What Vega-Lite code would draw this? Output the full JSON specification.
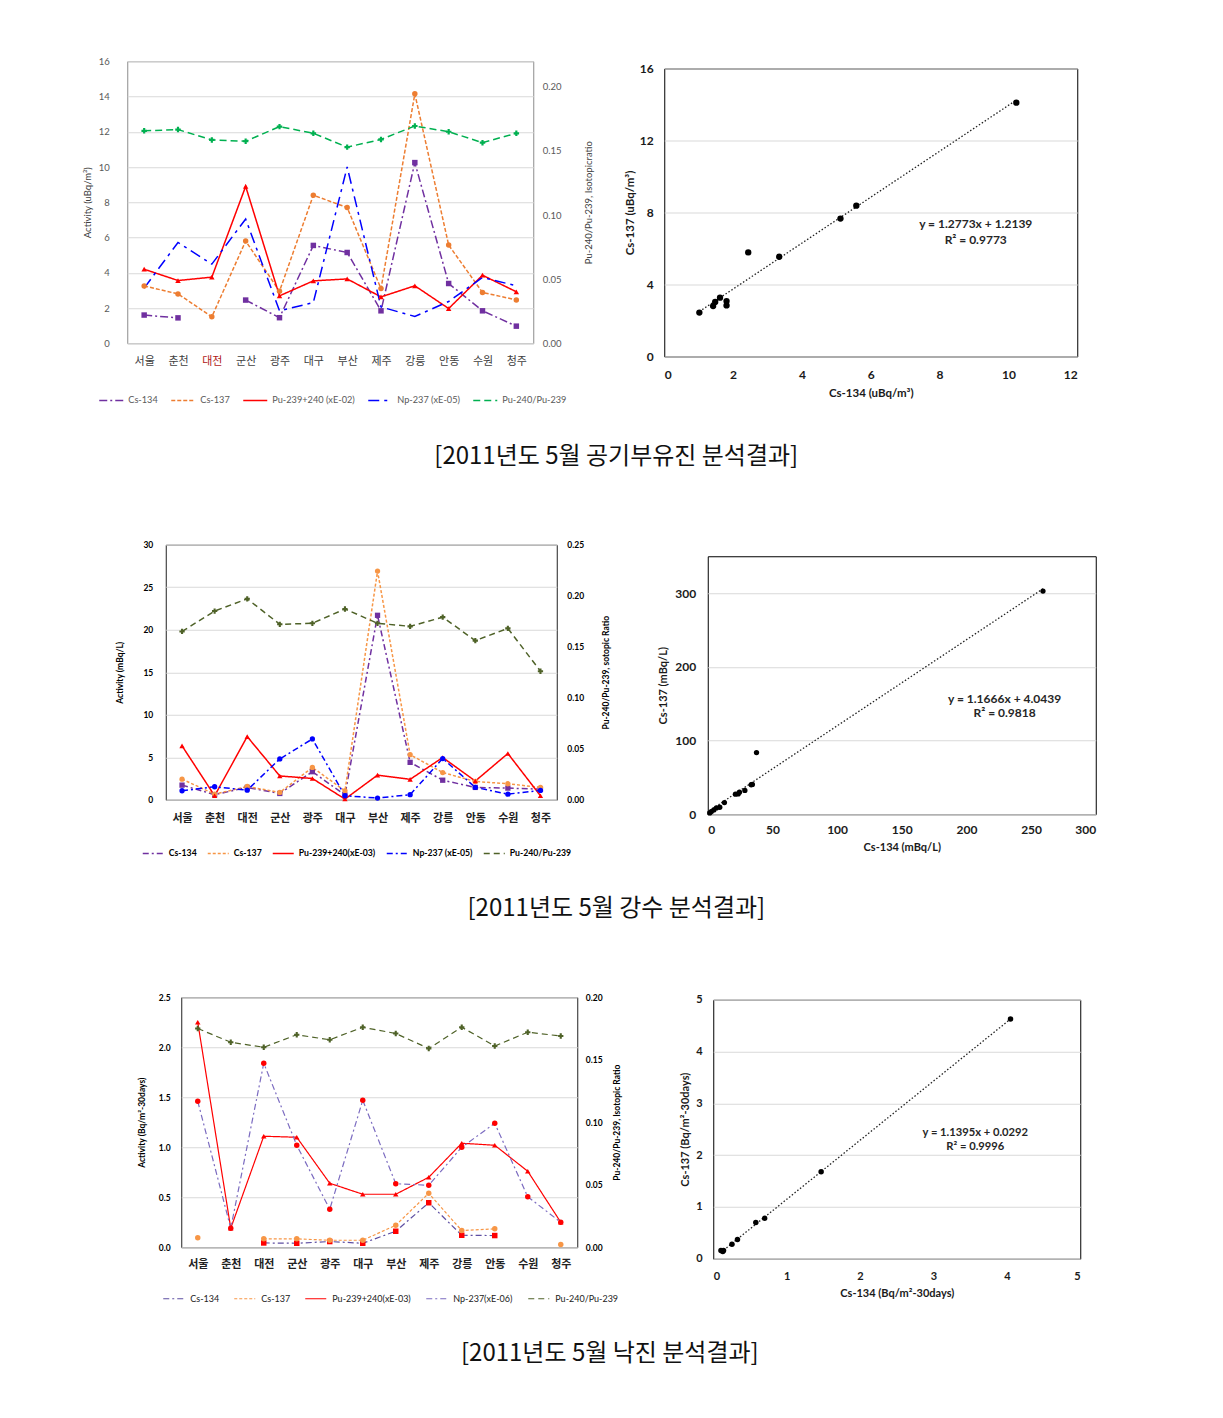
{
  "$schema": "https://vega.github.io/schema/vega-lite/v6.json",
  "background": "white",
  "padding": {"left": 81, "top": 55, "right": 5, "bottom": 5},
  "config": {
    "font": "Lato",
    "axis": {"labelFont": "Lato", "titleFont": "Lato", "domain": false, "ticks": false, "gridColor": "#d9d9d9", "labelColor": "#000", "titleColor": "#000"},
    "legend": {"labelFont": "Lato"},
    "view": {"stroke": "#000"}
  },
  "datasets": {
    "air": [
      {"c": "서울", "s": "Cs-134", "v": 1.6}, {"c": "춘천", "s": "Cs-134", "v": 1.44}, {"c": "대전", "s": "Cs-134", "v": null}, {"c": "군산", "s": "Cs-134", "v": 2.45}, {"c": "광주", "s": "Cs-134", "v": 1.45}, {"c": "대구", "s": "Cs-134", "v": 5.55}, {"c": "부산", "s": "Cs-134", "v": 5.15}, {"c": "제주", "s": "Cs-134", "v": 1.84}, {"c": "강릉", "s": "Cs-134", "v": 10.25}, {"c": "안동", "s": "Cs-134", "v": 3.39}, {"c": "수원", "s": "Cs-134", "v": 1.84}, {"c": "청주", "s": "Cs-134", "v": 0.97},
      {"c": "서울", "s": "Cs-137", "v": 3.25}, {"c": "춘천", "s": "Cs-137", "v": 2.8}, {"c": "대전", "s": "Cs-137", "v": 1.5}, {"c": "군산", "s": "Cs-137", "v": 5.8}, {"c": "광주", "s": "Cs-137", "v": 2.95}, {"c": "대구", "s": "Cs-137", "v": 8.4}, {"c": "부산", "s": "Cs-137", "v": 7.7}, {"c": "제주", "s": "Cs-137", "v": 3.1}, {"c": "강릉", "s": "Cs-137", "v": 14.15}, {"c": "안동", "s": "Cs-137", "v": 5.57}, {"c": "수원", "s": "Cs-137", "v": 2.88}, {"c": "청주", "s": "Cs-137", "v": 2.46},
      {"c": "서울", "s": "Pu-239+240 (xE-02)", "v": 4.2}, {"c": "춘천", "s": "Pu-239+240 (xE-02)", "v": 3.56}, {"c": "대전", "s": "Pu-239+240 (xE-02)", "v": 3.75}, {"c": "군산", "s": "Pu-239+240 (xE-02)", "v": 8.9}, {"c": "광주", "s": "Pu-239+240 (xE-02)", "v": 2.69}, {"c": "대구", "s": "Pu-239+240 (xE-02)", "v": 3.54}, {"c": "부산", "s": "Pu-239+240 (xE-02)", "v": 3.65}, {"c": "제주", "s": "Pu-239+240 (xE-02)", "v": 2.63}, {"c": "강릉", "s": "Pu-239+240 (xE-02)", "v": 3.26}, {"c": "안동", "s": "Pu-239+240 (xE-02)", "v": 1.97}, {"c": "수원", "s": "Pu-239+240 (xE-02)", "v": 3.86}, {"c": "청주", "s": "Pu-239+240 (xE-02)", "v": 2.92},
      {"c": "서울", "s": "Np-237 (xE-05)", "v": 3.13}, {"c": "춘천", "s": "Np-237 (xE-05)", "v": 5.72}, {"c": "대전", "s": "Np-237 (xE-05)", "v": 4.49}, {"c": "군산", "s": "Np-237 (xE-05)", "v": 7.05}, {"c": "광주", "s": "Np-237 (xE-05)", "v": 1.84}, {"c": "대구", "s": "Np-237 (xE-05)", "v": 2.31}, {"c": "부산", "s": "Np-237 (xE-05)", "v": 10.0}, {"c": "제주", "s": "Np-237 (xE-05)", "v": 2.06}, {"c": "강릉", "s": "Np-237 (xE-05)", "v": 1.52}, {"c": "안동", "s": "Np-237 (xE-05)", "v": 2.37}, {"c": "수원", "s": "Np-237 (xE-05)", "v": 3.73}, {"c": "청주", "s": "Np-237 (xE-05)", "v": 3.26},
      {"c": "서울", "s": "Pu-240/Pu-239", "v": 0.1657}, {"c": "춘천", "s": "Pu-240/Pu-239", "v": 0.1667}, {"c": "대전", "s": "Pu-240/Pu-239", "v": 0.1586}, {"c": "군산", "s": "Pu-240/Pu-239", "v": 0.1576}, {"c": "광주", "s": "Pu-240/Pu-239", "v": 0.169}, {"c": "대구", "s": "Pu-240/Pu-239", "v": 0.1638}, {"c": "부산", "s": "Pu-240/Pu-239", "v": 0.153}, {"c": "제주", "s": "Pu-240/Pu-239", "v": 0.159}, {"c": "강릉", "s": "Pu-240/Pu-239", "v": 0.1695}, {"c": "안동", "s": "Pu-240/Pu-239", "v": 0.165}, {"c": "수원", "s": "Pu-240/Pu-239", "v": 0.1565}, {"c": "청주", "s": "Pu-240/Pu-239", "v": 0.1638}
    ],
    "rain": [
      {"c": "서울", "s": "Cs-134", "v": 1.72}, {"c": "춘천", "s": "Cs-134", "v": 0.6}, {"c": "대전", "s": "Cs-134", "v": 1.45}, {"c": "군산", "s": "Cs-134", "v": 0.74}, {"c": "광주", "s": "Cs-134", "v": 3.3}, {"c": "대구", "s": "Cs-134", "v": 0.55}, {"c": "부산", "s": "Cs-134", "v": 21.7}, {"c": "제주", "s": "Cs-134", "v": 4.4}, {"c": "강릉", "s": "Cs-134", "v": 2.3}, {"c": "안동", "s": "Cs-134", "v": 1.45}, {"c": "수원", "s": "Cs-134", "v": 1.37}, {"c": "청주", "s": "Cs-134", "v": 1.25},
      {"c": "서울", "s": "Cs-137", "v": 2.42}, {"c": "춘천", "s": "Cs-137", "v": 0.66}, {"c": "대전", "s": "Cs-137", "v": 1.56}, {"c": "군산", "s": "Cs-137", "v": 0.86}, {"c": "광주", "s": "Cs-137", "v": 3.8}, {"c": "대구", "s": "Cs-137", "v": 1.05}, {"c": "부산", "s": "Cs-137", "v": 26.9}, {"c": "제주", "s": "Cs-137", "v": 5.3}, {"c": "강릉", "s": "Cs-137", "v": 3.2}, {"c": "안동", "s": "Cs-137", "v": 2.15}, {"c": "수원", "s": "Cs-137", "v": 1.88}, {"c": "청주", "s": "Cs-137", "v": 1.45},
      {"c": "서울", "s": "Pu-239+240(xE-03)", "v": 6.34}, {"c": "춘천", "s": "Pu-239+240(xE-03)", "v": 0.47}, {"c": "대전", "s": "Pu-239+240(xE-03)", "v": 7.43}, {"c": "군산", "s": "Pu-239+240(xE-03)", "v": 2.8}, {"c": "광주", "s": "Pu-239+240(xE-03)", "v": 2.5}, {"c": "대구", "s": "Pu-239+240(xE-03)", "v": 0.08}, {"c": "부산", "s": "Pu-239+240(xE-03)", "v": 2.9}, {"c": "제주", "s": "Pu-239+240(xE-03)", "v": 2.4}, {"c": "강릉", "s": "Pu-239+240(xE-03)", "v": 4.97}, {"c": "안동", "s": "Pu-239+240(xE-03)", "v": 2.2}, {"c": "수원", "s": "Pu-239+240(xE-03)", "v": 5.44}, {"c": "청주", "s": "Pu-239+240(xE-03)", "v": 0.47},
      {"c": "서울", "s": "Np-237 (xE-05)", "v": 1.06}, {"c": "춘천", "s": "Np-237 (xE-05)", "v": 1.53}, {"c": "대전", "s": "Np-237 (xE-05)", "v": 1.13}, {"c": "군산", "s": "Np-237 (xE-05)", "v": 4.8}, {"c": "광주", "s": "Np-237 (xE-05)", "v": 7.15}, {"c": "대구", "s": "Np-237 (xE-05)", "v": 0.47}, {"c": "부산", "s": "Np-237 (xE-05)", "v": 0.2}, {"c": "제주", "s": "Np-237 (xE-05)", "v": 0.6}, {"c": "강릉", "s": "Np-237 (xE-05)", "v": 4.85}, {"c": "안동", "s": "Np-237 (xE-05)", "v": 1.45}, {"c": "수원", "s": "Np-237 (xE-05)", "v": 0.66}, {"c": "청주", "s": "Np-237 (xE-05)", "v": 1.1},
      {"c": "서울", "s": "Pu-240/Pu-239", "v": 0.165}, {"c": "춘천", "s": "Pu-240/Pu-239", "v": 0.185}, {"c": "대전", "s": "Pu-240/Pu-239", "v": 0.197}, {"c": "군산", "s": "Pu-240/Pu-239", "v": 0.172}, {"c": "광주", "s": "Pu-240/Pu-239", "v": 0.173}, {"c": "대구", "s": "Pu-240/Pu-239", "v": 0.187}, {"c": "부산", "s": "Pu-240/Pu-239", "v": 0.173}, {"c": "제주", "s": "Pu-240/Pu-239", "v": 0.17}, {"c": "강릉", "s": "Pu-240/Pu-239", "v": 0.179}, {"c": "안동", "s": "Pu-240/Pu-239", "v": 0.156}, {"c": "수원", "s": "Pu-240/Pu-239", "v": 0.168}, {"c": "청주", "s": "Pu-240/Pu-239", "v": 0.126}
    ],
    "fall": [
      {"c": "대전", "s": "Cs-134", "v": 0.043}, {"c": "군산", "s": "Cs-134", "v": 0.04}, {"c": "광주", "s": "Cs-134", "v": 0.057}, {"c": "대구", "s": "Cs-134", "v": 0.04}, {"c": "부산", "s": "Cs-134", "v": 0.16}, {"c": "제주", "s": "Cs-134", "v": 0.445}, {"c": "강릉", "s": "Cs-134", "v": 0.12}, {"c": "안동", "s": "Cs-134", "v": 0.117},
      {"c": "서울", "s": "Cs-137", "v": 0.094}, {"c": "춘천", "s": "Cs-137", "v": null}, {"c": "대전", "s": "Cs-137", "v": 0.084}, {"c": "군산", "s": "Cs-137", "v": 0.084}, {"c": "광주", "s": "Cs-137", "v": 0.07}, {"c": "대구", "s": "Cs-137", "v": 0.07}, {"c": "부산", "s": "Cs-137", "v": 0.22}, {"c": "제주", "s": "Cs-137", "v": 0.54}, {"c": "강릉", "s": "Cs-137", "v": 0.167}, {"c": "안동", "s": "Cs-137", "v": 0.184}, {"c": "수원", "s": "Cs-137", "v": null}, {"c": "청주", "s": "Cs-137", "v": 0.027},
      {"c": "서울", "s": "Pu-239+240(xE-03)", "v": 2.25}, {"c": "춘천", "s": "Pu-239+240(xE-03)", "v": 0.19}, {"c": "대전", "s": "Pu-239+240(xE-03)", "v": 1.11}, {"c": "군산", "s": "Pu-239+240(xE-03)", "v": 1.1}, {"c": "광주", "s": "Pu-239+240(xE-03)", "v": 0.64}, {"c": "대구", "s": "Pu-239+240(xE-03)", "v": 0.53}, {"c": "부산", "s": "Pu-239+240(xE-03)", "v": 0.53}, {"c": "제주", "s": "Pu-239+240(xE-03)", "v": 0.7}, {"c": "강릉", "s": "Pu-239+240(xE-03)", "v": 1.04}, {"c": "안동", "s": "Pu-239+240(xE-03)", "v": 1.02}, {"c": "수원", "s": "Pu-239+240(xE-03)", "v": 0.76}, {"c": "청주", "s": "Pu-239+240(xE-03)", "v": 0.25},
      {"c": "서울", "s": "Np-237(xE-06)", "v": 1.46}, {"c": "춘천", "s": "Np-237(xE-06)", "v": 0.19}, {"c": "대전", "s": "Np-237(xE-06)", "v": 1.84}, {"c": "군산", "s": "Np-237(xE-06)", "v": 1.02}, {"c": "광주", "s": "Np-237(xE-06)", "v": 0.38}, {"c": "대구", "s": "Np-237(xE-06)", "v": 1.47}, {"c": "부산", "s": "Np-237(xE-06)", "v": 0.635}, {"c": "제주", "s": "Np-237(xE-06)", "v": 0.62}, {"c": "강릉", "s": "Np-237(xE-06)", "v": 1.0}, {"c": "안동", "s": "Np-237(xE-06)", "v": 1.24}, {"c": "수원", "s": "Np-237(xE-06)", "v": 0.505}, {"c": "청주", "s": "Np-237(xE-06)", "v": 0.25},
      {"c": "서울", "s": "Pu-240/Pu-239", "v": 0.175}, {"c": "춘천", "s": "Pu-240/Pu-239", "v": 0.164}, {"c": "대전", "s": "Pu-240/Pu-239", "v": 0.16}, {"c": "군산", "s": "Pu-240/Pu-239", "v": 0.17}, {"c": "광주", "s": "Pu-240/Pu-239", "v": 0.166}, {"c": "대구", "s": "Pu-240/Pu-239", "v": 0.176}, {"c": "부산", "s": "Pu-240/Pu-239", "v": 0.171}, {"c": "제주", "s": "Pu-240/Pu-239", "v": 0.159}, {"c": "강릉", "s": "Pu-240/Pu-239", "v": 0.176}, {"c": "안동", "s": "Pu-240/Pu-239", "v": 0.161}, {"c": "수원", "s": "Pu-240/Pu-239", "v": 0.172}, {"c": "청주", "s": "Pu-240/Pu-239", "v": 0.169}
    ],
    "sc1": [
      {"x": 1.02, "y": 2.44}, {"x": 1.42, "y": 2.8}, {"x": 1.48, "y": 3.03}, {"x": 1.62, "y": 3.27}, {"x": 1.81, "y": 3.08}, {"x": 1.81, "y": 2.84}, {"x": 2.44, "y": 5.78}, {"x": 3.34, "y": 5.54}, {"x": 5.12, "y": 7.66}, {"x": 5.58, "y": 8.38}, {"x": 10.23, "y": 14.1}
    ],
    "sc2": [
      {"x": 1.5, "y": 1.8}, {"x": 2.8, "y": 3.6}, {"x": 4.7, "y": 5.9}, {"x": 6.7, "y": 8.6}, {"x": 9.3, "y": 9.5}, {"x": 12.9, "y": 15.9}, {"x": 21.4, "y": 27.3}, {"x": 23.5, "y": 27.5}, {"x": 24.5, "y": 30}, {"x": 28.7, "y": 32.3}, {"x": 33.6, "y": 40}, {"x": 34.5, "y": 40.5}, {"x": 37.7, "y": 83.6}, {"x": 259.2, "y": 302.7}
    ],
    "sc3": [
      {"x": 0.105, "y": 0.16}, {"x": 0.13, "y": 0.14}, {"x": 0.14, "y": 0.16}, {"x": 0.255, "y": 0.28}, {"x": 0.33, "y": 0.37}, {"x": 0.58, "y": 0.7}, {"x": 0.7, "y": 0.78}, {"x": 1.47, "y": 1.68}, {"x": 4.05, "y": 4.63}
    ]
  },
  "columns": 1,
  "center": true,
  "spacing": 70.5,
  "resolve": {
    "scale": {"stroke": "independent", "strokeDash": "independent", "strokeWidth": "independent"},
    "legend": {"stroke": "independent", "strokeDash": "independent", "strokeWidth": "independent"}
  },
  "concat": [
    {
      "title": {"text": "[2011년도 5월 공기부유진 분석결과]", "orient": "bottom", "anchor": "middle", "dx": 8, "offset": 38, "fontSize": 24, "font": "Noto Sans CJK KR", "fontWeight": "normal", "color": "#111"},
      "columns": 2,
      "center": true,
      "spacing": 30,
      "concat": [
        {
          "width": 406, "height": 282,
          "view": {"stroke": "#8c8c8c"},
          "data": {"name": "air"},
          "encoding": {
            "x": {"field": "c", "type": "nominal", "scale": {"type": "point", "padding": 0.5, "domain": ["서울","춘천","대전","군산","광주","대구","부산","제주","강릉","안동","수원","청주"]},
              "axis": {"title": "\u00a0", "titleFontSize": 10, "titlePadding": 30, "labelAngle": 0, "grid": false, "labelPadding": 12, "labelFont": "Noto Sans CJK KR", "labelFontSize": 11, "labelColor": {"condition": {"test": "datum.value === '대전'", "value": "#b01818"}, "value": "#404040"}}}
          },
          "layer": [
            {
              "transform": [{"filter": "datum.s !== 'Pu-240/Pu-239'"}],
              "encoding": {"y": {"field": "v", "type": "quantitative", "scale": {"domain": [0, 16], "nice": false},
                "axis": {"title": "Activity (uBq/m³)", "values": [0,2,4,6,8,10,12,14,16], "grid": true, "labelPadding": 18, "titlePadding": 6, "labelFontSize": 9.5, "titleFontSize": 9.5, "titleFontWeight": "normal", "labelColor": "#595959", "titleColor": "#404040"}}},
              "layer": [
                {"mark": {"type": "line", "invalid": "break-paths-show-domains"},
                 "encoding": {
                   "stroke": {"field": "s", "type": "nominal", "scale": {"domain": ["Cs-134", "Cs-137", "Pu-239+240 (xE-02)", "Np-237 (xE-05)", "Pu-240/Pu-239"], "range": ["#7030A0", "#ED7D31", "#FF0000", "#0000FF", "#00B050"]},
                     "legend": {"title": null, "orient": "none", "legendX": -29, "legendY": 326, "direction": "horizontal", "columns": 5, "symbolType": "stroke", "symbolSize": 576, "symbolStrokeWidth": 1.8, "labelFontSize": 9.2, "labelColor": "#595959", "columnPadding": 10, "labelOffset": 4}},
                   "strokeDash": {"field": "s", "type": "nominal", "scale": {"domain": ["Cs-134", "Cs-137", "Pu-239+240 (xE-02)", "Np-237 (xE-05)", "Pu-240/Pu-239"], "range": [[8,3,2,3],[4,2],[1,0],[11,5,3,5],[7,4]]},
                     "legend": {"title": null, "orient": "none", "legendX": -29, "legendY": 326, "direction": "horizontal", "columns": 5, "symbolType": "stroke", "symbolSize": 576, "symbolStrokeWidth": 1.8, "labelFontSize": 9.2, "labelColor": "#595959", "columnPadding": 10, "labelOffset": 4}},
                   "strokeWidth": {"field": "s", "type": "nominal", "scale": {"domain": ["Cs-134", "Cs-137", "Pu-239+240 (xE-02)", "Np-237 (xE-05)", "Pu-240/Pu-239"], "range": [1.5, 1.5, 1, 2.6, 2]}, "legend": null}
                 }},
                {"transform": [{"filter": "datum.v != null && datum.s !== 'Np-237 (xE-05)'"}],
                 "mark": {"type": "point", "filled": true, "opacity": 1, "size": 30},
                 "encoding": {
                   "fill": {"condition": [{"test": "datum.s === 'Cs-134'", "value": "#7030A0"}, {"test": "datum.s === 'Cs-137'", "value": "#ED7D31"}], "value": "#FF0000"},
                   "shape": {"condition": [{"test": "datum.s === 'Cs-134'", "value": "square"}, {"test": "datum.s === 'Cs-137'", "value": "circle"}], "value": "triangle-up"}
                 }}
              ]
            },
            {
              "transform": [{"filter": "datum.s === 'Pu-240/Pu-239'"}],
              "encoding": {"y": {"field": "v", "type": "quantitative", "scale": {"domain": [0, 0.22], "nice": false},
                "axis": {"orient": "right", "title": "Pu-240/Pu-239, Isotopicratio", "values": [0, 0.05, 0.1, 0.15, 0.2], "format": ".2f", "grid": false, "labelPadding": 9, "titlePadding": 22, "labelFontSize": 9.5, "titleFontSize": 9.5, "titleFontWeight": "normal", "titleAngle": 270, "titleBaseline": "top", "labelColor": "#595959", "titleColor": "#404040"}}},
              "layer": [
                {"mark": {"type": "line", "invalid": "break-paths-show-domains"},
                 "encoding": {
                   "stroke": {"field": "s", "type": "nominal"},
                   "strokeDash": {"field": "s", "type": "nominal"},
                   "strokeWidth": {"field": "s", "type": "nominal", "legend": null}
                 }},
                {"mark": {"type": "point", "filled": true, "opacity": 1, "size": 30, "shape": "cross", "fill": "#00B050"}}
              ]
            }
          ],
          "resolve": {"scale": {"y": "independent"}}
        },
        {
          "width": 413, "height": 288,
          "title": {"text": "\u00a0", "orient": "right", "offset": 50, "fontSize": 7},
          "view": {"stroke": "#000"},
          "layer": [
            {"data": {"name": "sc1"}, "transform": [{"regression": "y", "on": "x"}], "mark": {"type": "line", "color": "#222", "strokeDash": [1.5, 2], "strokeWidth": 1.3},
             "encoding": {
               "x": {"field": "x", "type": "quantitative", "scale": {"domain": [0, 12], "nice": false},
                 "axis": {"title": "Cs-134 (uBq/m³)", "values": [0,2,4,6,8,10,12], "labelOverlap": false, "grid": false, "labelPadding": 13, "titlePadding": 7, "labelFontSize": 12, "labelFontWeight": "bold", "titleFontSize": 11.5, "titleFontWeight": "bold", "labelColor": "#1a1a1a", "titleColor": "#1a1a1a"}},
               "y": {"field": "y", "type": "quantitative", "scale": {"domain": [0, 16], "nice": false},
                 "axis": {"title": "Cs-137 (uBq/m³)", "values": [0,2,4,6,8,10,12,14,16], "labelOverlap": false, "grid": true, "labelPadding": 11, "titlePadding": 4, "labelFontSize": 12, "labelFontWeight": "bold", "titleFontSize": 11.5, "titleFontWeight": "bold", "labelColor": "#1a1a1a", "titleColor": "#1a1a1a"}}
             }},
            {"data": {"name": "sc1"}, "mark": {"type": "point", "filled": true, "color": "#000", "opacity": 1, "size": 40},
             "encoding": {
               "x": {"field": "x", "type": "quantitative", "scale": {"domain": [0, 12], "nice": false},
                 "axis": {"title": "Cs-134 (uBq/m³)", "values": [0,2,4,6,8,10,12], "labelOverlap": false, "grid": false, "labelPadding": 13, "titlePadding": 7, "labelFontSize": 12, "labelFontWeight": "bold", "titleFontSize": 11.5, "titleFontWeight": "bold", "labelColor": "#1a1a1a", "titleColor": "#1a1a1a"}},
               "y": {"field": "y", "type": "quantitative", "scale": {"domain": [0, 16], "nice": false},
                 "axis": {"title": "Cs-137 (uBq/m³)", "values": [0,2,4,6,8,10,12,14,16], "labelOverlap": false, "grid": true, "labelPadding": 11, "titlePadding": 4, "labelFontSize": 12, "labelFontWeight": "bold", "titleFontSize": 11.5, "titleFontWeight": "bold", "labelColor": "#1a1a1a", "titleColor": "#1a1a1a"}}
             }},
            {"data": {"values": [{}]}, "mark": {"type": "text", "text": "y = 1.2773x + 1.2139", "fontWeight": "bold", "fontSize": 12, "color": "#262626"},
             "encoding": {"x": {"datum": 9.05, "type": "quantitative"}, "y": {"datum": 7.38, "type": "quantitative"}}},
            {"data": {"values": [{}]}, "mark": {"type": "text", "text": "R² = 0.9773", "fontWeight": "bold", "fontSize": 12, "color": "#262626"},
             "encoding": {"x": {"datum": 9.05, "type": "quantitative"}, "y": {"datum": 6.5, "type": "quantitative"}}}
          ]
        }
      ]
    },
    {
      "title": {"text": "[2011년도 5월 강수 분석결과]", "orient": "bottom", "anchor": "middle", "dx": 10.5, "offset": 33, "fontSize": 24, "font": "Noto Sans CJK KR", "fontWeight": "normal", "color": "#111"},
      "columns": 2,
      "center": true,
      "spacing": 46,
      "concat": [
        {
          "width": 391, "height": 255,
          "view": {"stroke": "#222"},
          "data": {"name": "rain"},
          "encoding": {
            "x": {"field": "c", "type": "nominal", "scale": {"type": "point", "padding": 0.5, "domain": ["서울","춘천","대전","군산","광주","대구","부산","제주","강릉","안동","수원","청주"]},
              "axis": {"title": "\u00a0", "titleFontSize": 10, "titlePadding": 30, "labelAngle": 0, "grid": false, "labelPadding": 13, "labelFont": "Noto Sans CJK KR", "labelFontSize": 11, "labelFontWeight": "bold", "labelColor": "#222"}}
          },
          "layer": [
            {
              "transform": [{"filter": "datum.s !== 'Pu-240/Pu-239'"}],
              "encoding": {"y": {"field": "v", "type": "quantitative", "scale": {"domain": [0, 30], "nice": false},
                "axis": {"title": "Activity (mBq/L)", "values": [0,5,10,15,20,25,30], "grid": true, "labelPadding": 13, "titlePadding": 18, "labelFontSize": 8.5, "labelFontWeight": "bold", "titleFontSize": 8.5, "titleFontWeight": "bold"}}},
              "layer": [
                {"mark": {"type": "line", "invalid": "break-paths-show-domains"},
                 "encoding": {
                   "stroke": {"field": "s", "type": "nominal", "scale": {"domain": ["Cs-134", "Cs-137", "Pu-239+240(xE-03)", "Np-237 (xE-05)", "Pu-240/Pu-239"], "range": ["#7030A0", "#F79646", "#FF0000", "#0000FF", "#4F6228"]},
                     "legend": {"title": null, "orient": "none", "legendX": -24, "legendY": 297, "direction": "horizontal", "columns": 5, "symbolType": "stroke", "symbolSize": 441, "symbolStrokeWidth": 1.8, "labelFontSize": 8.7, "labelFontWeight": "bold", "labelColor": "#000", "columnPadding": 8, "labelOffset": 4}},
                   "strokeDash": {"field": "s", "type": "nominal", "scale": {"domain": ["Cs-134", "Cs-137", "Pu-239+240(xE-03)", "Np-237 (xE-05)", "Pu-240/Pu-239"], "range": [[6,3,2,3],[3,2],[1,0],[6,3,2,3],[6,4]]},
                     "legend": {"title": null, "orient": "none", "legendX": -24, "legendY": 297, "direction": "horizontal", "columns": 5, "symbolType": "stroke", "symbolSize": 441, "symbolStrokeWidth": 1.8, "labelFontSize": 8.7, "labelFontWeight": "bold", "labelColor": "#000", "columnPadding": 8, "labelOffset": 4}},
                   "strokeWidth": {"field": "s", "type": "nominal", "scale": {"domain": ["Cs-134", "Cs-137", "Pu-239+240(xE-03)", "Np-237 (xE-05)", "Pu-240/Pu-239"], "range": [1.5, 1.5, 2, 1.5, 1.5]}, "legend": null}
                 }},
                {"transform": [{"filter": "datum.v != null"}],
                 "mark": {"type": "point", "filled": true, "opacity": 1, "size": 28},
                 "encoding": {
                   "fill": {"condition": [{"test": "datum.s === 'Cs-134'", "value": "#7030A0"}, {"test": "datum.s === 'Cs-137'", "value": "#F79646"}, {"test": "datum.s === 'Np-237 (xE-05)'", "value": "#0000FF"}], "value": "#FF0000"},
                   "shape": {"condition": [{"test": "datum.s === 'Cs-134'", "value": "square"}, {"test": "datum.s === 'Pu-239+240(xE-03)'", "value": "triangle-up"}], "value": "circle"}
                 }}
              ]
            },
            {
              "transform": [{"filter": "datum.s === 'Pu-240/Pu-239'"}],
              "encoding": {"y": {"field": "v", "type": "quantitative", "scale": {"domain": [0, 0.25], "nice": false},
                "axis": {"orient": "right", "title": "Pu-240/Pu-239, sotopic Ratio", "values": [0, 0.05, 0.1, 0.15, 0.2, 0.25], "format": ".2f", "grid": false, "labelPadding": 10, "titlePadding": 18, "labelFontSize": 8.5, "labelFontWeight": "bold", "titleFontSize": 8.5, "titleFontWeight": "bold", "titleAngle": 270, "titleBaseline": "top"}}},
              "layer": [
                {"mark": {"type": "line", "invalid": "break-paths-show-domains"},
                 "encoding": {
                   "stroke": {"field": "s", "type": "nominal"},
                   "strokeDash": {"field": "s", "type": "nominal"},
                   "strokeWidth": {"field": "s", "type": "nominal", "legend": null}
                 }},
                {"mark": {"type": "point", "filled": true, "opacity": 1, "size": 28, "shape": "cross", "fill": "#4F6228"}}
              ]
            }
          ],
          "resolve": {"scale": {"y": "independent"}}
        },
        {
          "width": 388, "height": 258,
          "view": {"stroke": "#000"},
          "layer": [
            {"data": {"name": "sc2"}, "transform": [{"regression": "y", "on": "x"}], "mark": {"type": "line", "color": "#222", "strokeDash": [1.5, 2], "strokeWidth": 1.3},
             "encoding": {
               "x": {"field": "x", "type": "quantitative", "scale": {"domain": [0, 300], "nice": false},
                 "axis": {"title": "Cs-134 (mBq/L)", "values": [0,50,100,150,200,250,300], "labelOverlap": false, "grid": false, "labelPadding": 10, "titlePadding": 6, "labelFontSize": 12, "labelFontWeight": "bold", "titleFontSize": 11, "titleFontWeight": "bold", "labelColor": "#1a1a1a", "titleColor": "#1a1a1a"}},
               "y": {"field": "y", "type": "quantitative", "scale": {"domain": [0, 350], "nice": false},
                 "axis": {"title": "Cs-137 (mBq/L)", "values": [0,50,100,150,200,250,300,350], "labelOverlap": false, "grid": true, "labelPadding": 12, "titlePadding": 6, "labelFontSize": 12, "labelFontWeight": "bold", "titleFontSize": 11, "titleFontWeight": "bold", "labelColor": "#1a1a1a", "titleColor": "#1a1a1a"}}
             }},
            {"data": {"name": "sc2"}, "mark": {"type": "point", "filled": true, "color": "#000", "opacity": 1, "size": 28},
             "encoding": {
               "x": {"field": "x", "type": "quantitative", "scale": {"domain": [0, 300], "nice": false},
                 "axis": {"title": "Cs-134 (mBq/L)", "values": [0,50,100,150,200,250,300], "labelOverlap": false, "grid": false, "labelPadding": 10, "titlePadding": 6, "labelFontSize": 12, "labelFontWeight": "bold", "titleFontSize": 11, "titleFontWeight": "bold", "labelColor": "#1a1a1a", "titleColor": "#1a1a1a"}},
               "y": {"field": "y", "type": "quantitative", "scale": {"domain": [0, 350], "nice": false},
                 "axis": {"title": "Cs-137 (mBq/L)", "values": [0,50,100,150,200,250,300,350], "labelOverlap": false, "grid": true, "labelPadding": 12, "titlePadding": 6, "labelFontSize": 12, "labelFontWeight": "bold", "titleFontSize": 11, "titleFontWeight": "bold", "labelColor": "#1a1a1a", "titleColor": "#1a1a1a"}}
             }},
            {"data": {"values": [{}]}, "mark": {"type": "text", "text": "y = 1.1666x + 4.0439", "fontWeight": "bold", "fontSize": 12, "color": "#262626"},
             "encoding": {"x": {"datum": 229.5, "type": "quantitative"}, "y": {"datum": 156.8, "type": "quantitative"}}},
            {"data": {"values": [{}]}, "mark": {"type": "text", "text": "R² = 0.9818", "fontWeight": "bold", "fontSize": 12, "color": "#262626"},
             "encoding": {"x": {"datum": 229.5, "type": "quantitative"}, "y": {"datum": 136.8, "type": "quantitative"}}}
          ]
        }
      ]
    },
    {
      "title": {"text": "[2011년도 5월 낙진 분석결과]", "orient": "bottom", "anchor": "middle", "dx": 1, "offset": 38, "fontSize": 24, "font": "Noto Sans CJK KR", "fontWeight": "normal", "color": "#111"},
      "columns": 2,
      "center": true,
      "spacing": 58,
      "concat": [
        {
          "width": 396, "height": 250,
          "view": {"stroke": "#222"},
          "data": {"name": "fall"},
          "encoding": {
            "x": {"field": "c", "type": "nominal", "scale": {"type": "point", "padding": 0.5, "domain": ["서울","춘천","대전","군산","광주","대구","부산","제주","강릉","안동","수원","청주"]},
              "axis": {"title": "\u00a0", "titleFontSize": 10, "titlePadding": 22, "labelAngle": 0, "grid": false, "labelPadding": 11, "labelFont": "Noto Sans CJK KR", "labelFontSize": 11, "labelFontWeight": "bold", "labelColor": "#222"}}
          },
          "layer": [
            {
              "transform": [{"filter": "datum.s !== 'Pu-240/Pu-239'"}],
              "encoding": {"y": {"field": "v", "type": "quantitative", "scale": {"domain": [0, 2.5], "nice": false},
                "axis": {"title": "Activity (Bq/m²-30days)", "values": [0, 0.5, 1, 1.5, 2, 2.5], "format": ".1f", "grid": true, "labelPadding": 11, "titlePadding": 12, "labelFontSize": 8.5, "labelFontWeight": "bold", "titleFontSize": 8.5, "titleFontWeight": "bold"}}},
              "layer": [
                {"mark": {"type": "line", "invalid": "break-paths-show-domains"},
                 "encoding": {
                   "stroke": {"field": "s", "type": "nominal", "scale": {"domain": ["Cs-134", "Cs-137", "Pu-239+240(xE-03)", "Np-237(xE-06)", "Pu-240/Pu-239"], "range": ["#5E4FA2", "#F79646", "#FF0000", "#7B6BC0", "#4F6228"]},
                     "legend": {"title": null, "orient": "none", "legendX": -19, "legendY": 290, "direction": "horizontal", "columns": 5, "symbolType": "stroke", "symbolSize": 441, "symbolStrokeWidth": 1.8, "labelFontSize": 9, "labelColor": "#222", "columnPadding": 12, "labelOffset": 5}},
                   "strokeDash": {"field": "s", "type": "nominal", "scale": {"domain": ["Cs-134", "Cs-137", "Pu-239+240(xE-03)", "Np-237(xE-06)", "Pu-240/Pu-239"], "range": [[6,3,2,3],[3,2],[1,0],[6,3,2,3],[6,4]]},
                     "legend": {"title": null, "orient": "none", "legendX": -19, "legendY": 290, "direction": "horizontal", "columns": 5, "symbolType": "stroke", "symbolSize": 441, "symbolStrokeWidth": 1.8, "labelFontSize": 9, "labelColor": "#222", "columnPadding": 12, "labelOffset": 5}},
                   "strokeWidth": {"field": "s", "type": "nominal", "scale": {"domain": ["Cs-134", "Cs-137", "Pu-239+240(xE-03)", "Np-237(xE-06)", "Pu-240/Pu-239"], "range": [1.2, 1.2, 2, 1.2, 1.5]}, "legend": null}
                 }},
                {"transform": [{"filter": "datum.v != null"}],
                 "mark": {"type": "point", "filled": true, "opacity": 1, "size": 30},
                 "encoding": {
                   "fill": {"condition": [{"test": "datum.s === 'Cs-137'", "value": "#F79646"}], "value": "#FF0000"},
                   "shape": {"condition": [{"test": "datum.s === 'Cs-134'", "value": "square"}, {"test": "datum.s === 'Pu-239+240(xE-03)'", "value": "triangle-up"}], "value": "circle"}
                 }}
              ]
            },
            {
              "transform": [{"filter": "datum.s === 'Pu-240/Pu-239'"}],
              "encoding": {"y": {"field": "v", "type": "quantitative", "scale": {"domain": [0, 0.2], "nice": false},
                "axis": {"orient": "right", "title": "Pu-240/Pu-239, Isotopic Ratio", "values": [0, 0.05, 0.1, 0.15, 0.2], "format": ".2f", "grid": false, "labelPadding": 8, "titlePadding": 10, "labelFontSize": 8.5, "labelFontWeight": "bold", "titleFontSize": 8.5, "titleFontWeight": "bold", "titleAngle": 270, "titleBaseline": "top"}}},
              "layer": [
                {"mark": {"type": "line", "invalid": "break-paths-show-domains"},
                 "encoding": {
                   "stroke": {"field": "s", "type": "nominal"},
                   "strokeDash": {"field": "s", "type": "nominal"},
                   "strokeWidth": {"field": "s", "type": "nominal", "legend": null}
                 }},
                {"mark": {"type": "point", "filled": true, "opacity": 1, "size": 28, "shape": "cross", "fill": "#4F6228"}}
              ]
            }
          ],
          "resolve": {"scale": {"y": "independent"}}
        },
        {
          "width": 367, "height": 259,
          "view": {"stroke": "#000"},
          "layer": [
            {"data": {"name": "sc3"}, "transform": [{"regression": "y", "on": "x"}], "mark": {"type": "line", "color": "#222", "strokeDash": [1.5, 2], "strokeWidth": 1.3},
             "encoding": {
               "x": {"field": "x", "type": "quantitative", "scale": {"domain": [0, 5], "nice": false},
                 "axis": {"title": "Cs-134 (Bq/m²-30days)", "values": [0,1,2,3,4,5], "format": "~g", "labelOverlap": false, "grid": false, "labelPadding": 12, "titlePadding": 6, "labelFontSize": 11, "labelFontWeight": "bold", "titleFontSize": 11, "titleFontWeight": "bold", "labelColor": "#1a1a1a", "titleColor": "#1a1a1a"}},
               "y": {"field": "y", "type": "quantitative", "scale": {"domain": [0, 5], "nice": false},
                 "axis": {"title": "Cs-137 (Bq/m²-30days)", "values": [0,0.5,1,1.5,2,2.5,3,3.5,4,4.5,5], "format": "~g", "labelOverlap": false, "grid": true, "labelPadding": 11, "titlePadding": 5, "labelFontSize": 11, "labelFontWeight": "bold", "titleFontSize": 11, "titleFontWeight": "bold", "labelColor": "#1a1a1a", "titleColor": "#1a1a1a"}}
             }},
            {"data": {"name": "sc3"}, "mark": {"type": "point", "filled": true, "color": "#000", "opacity": 1, "size": 30},
             "encoding": {
               "x": {"field": "x", "type": "quantitative", "scale": {"domain": [0, 5], "nice": false},
                 "axis": {"title": "Cs-134 (Bq/m²-30days)", "values": [0,1,2,3,4,5], "format": "~g", "labelOverlap": false, "grid": false, "labelPadding": 12, "titlePadding": 6, "labelFontSize": 11, "labelFontWeight": "bold", "titleFontSize": 11, "titleFontWeight": "bold", "labelColor": "#1a1a1a", "titleColor": "#1a1a1a"}},
               "y": {"field": "y", "type": "quantitative", "scale": {"domain": [0, 5], "nice": false},
                 "axis": {"title": "Cs-137 (Bq/m²-30days)", "values": [0,0.5,1,1.5,2,2.5,3,3.5,4,4.5,5], "format": "~g", "labelOverlap": false, "grid": true, "labelPadding": 11, "titlePadding": 5, "labelFontSize": 11, "labelFontWeight": "bold", "titleFontSize": 11, "titleFontWeight": "bold", "labelColor": "#1a1a1a", "titleColor": "#1a1a1a"}}
             }},
            {"data": {"values": [{}]}, "mark": {"type": "text", "text": "y = 1.1395x + 0.0292", "fontWeight": "bold", "fontSize": 11.2, "color": "#262626"},
             "encoding": {"x": {"datum": 3.57, "type": "quantitative"}, "y": {"datum": 2.42, "type": "quantitative"}}},
            {"data": {"values": [{}]}, "mark": {"type": "text", "text": "R² = 0.9996", "fontWeight": "bold", "fontSize": 11.2, "color": "#262626"},
             "encoding": {"x": {"datum": 3.57, "type": "quantitative"}, "y": {"datum": 2.15, "type": "quantitative"}}}
          ]
        }
      ]
    }
  ]
}
